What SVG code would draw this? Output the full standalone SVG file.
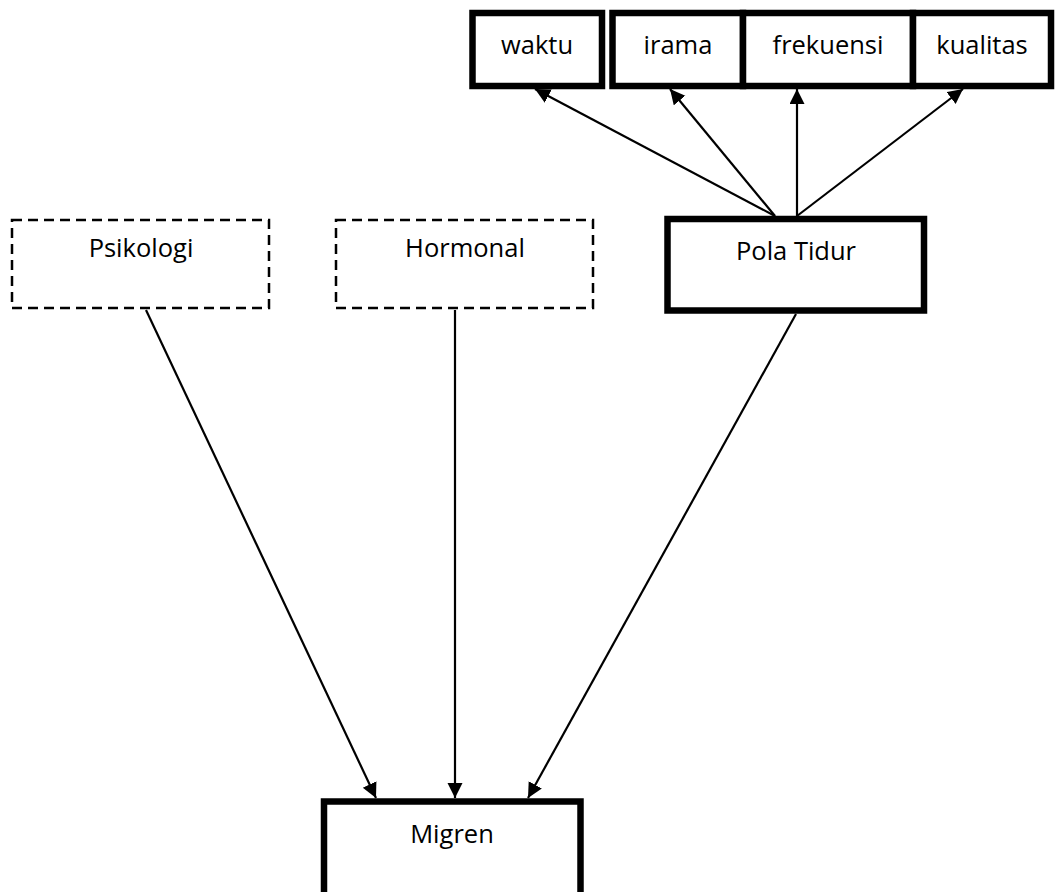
<svg xmlns="http://www.w3.org/2000/svg" width="1055" height="892" viewBox="0 0 1055 892">
<style>
.bold{fill:#fff;stroke:#000;stroke-width:6.5}
.dash{fill:#fff;stroke:#000;stroke-width:2.5;stroke-dasharray:10 6}
.lbl{font-family:"Open Sans","Noto Sans",sans-serif;font-size:25.5px;fill:#000;text-anchor:middle}
.con{stroke:#000;stroke-width:2.2;fill:none;marker-end:url(#ah)}
</style>
<defs>
<marker id="ah" markerUnits="userSpaceOnUse" markerWidth="18" markerHeight="18" refX="15" refY="7.5" orient="auto">
<path d="M0,0 L15,7.5 L0,15 z" fill="#000"/>
</marker>
</defs>
<rect x="0" y="0" width="1055" height="892" fill="#fff"/>
<g id="connectors">
<line class="con" x1="775" y1="216" x2="535" y2="89"/>
<line class="con" x1="775" y1="216" x2="670" y2="89"/>
<line class="con" x1="797" y1="216" x2="797" y2="89"/>
<line class="con" x1="797" y1="216" x2="963" y2="89"/>
<line class="con" x1="146" y1="310" x2="376" y2="798"/>
<line class="con" x1="455" y1="310" x2="455" y2="798"/>
<line class="con" x1="796" y1="314" x2="528" y2="798"/>
</g>
<g id="node-waktu">
<rect class="bold" x="472.5" y="13" width="129.5" height="73"/>
<text class="lbl" x="537" y="54">waktu</text>
</g>
<g id="node-irama">
<rect class="bold" x="612.5" y="13" width="130.5" height="73"/>
<text class="lbl" x="678" y="54">irama</text>
</g>
<g id="node-frekuensi">
<rect class="bold" x="743" y="13" width="170" height="73"/>
<text class="lbl" x="828" y="54">frekuensi</text>
</g>
<g id="node-kualitas">
<rect class="bold" x="913" y="13" width="138" height="73"/>
<text class="lbl" x="982" y="54">kualitas</text>
</g>
<g id="node-psikologi">
<rect class="dash" x="12" y="220" width="257" height="88"/>
<text class="lbl" x="141" y="257">Psikologi</text>
</g>
<g id="node-hormonal">
<rect class="dash" x="336" y="220" width="257" height="88"/>
<text class="lbl" x="465" y="257">Hormonal</text>
</g>
<g id="node-polatidur">
<rect class="bold" x="667.5" y="219" width="256.5" height="91.5"/>
<text class="lbl" x="796" y="260">Pola Tidur</text>
</g>
<g id="node-migren">
<rect class="bold" x="324" y="801.5" width="256.5" height="94.5"/>
<text class="lbl" x="452" y="843">Migren</text>
</g>
</svg>
